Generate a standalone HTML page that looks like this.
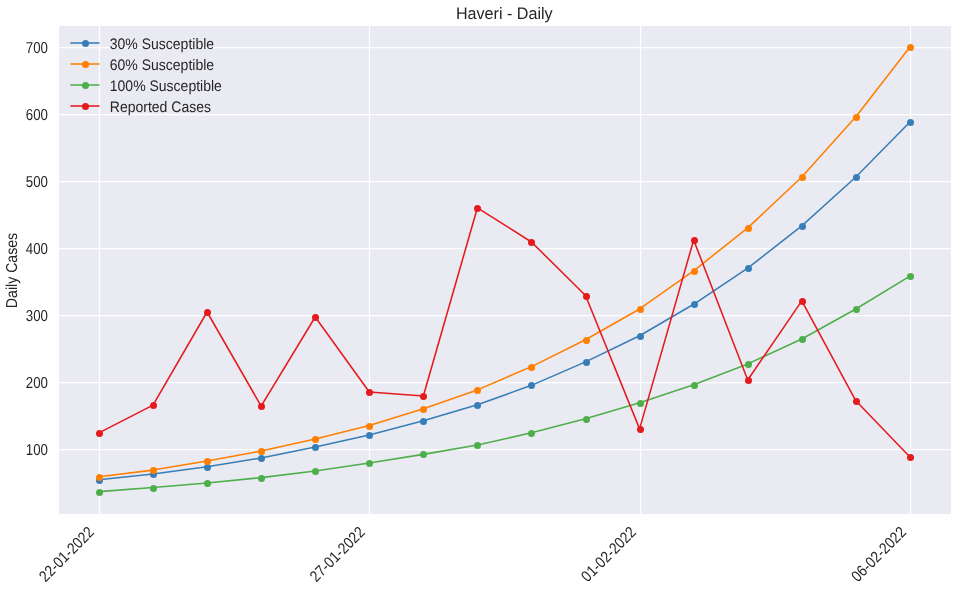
<!DOCTYPE html>
<html><head><meta charset="utf-8"><title>Haveri - Daily</title>
<style>html,body{margin:0;padding:0;background:#fff;}body{width:957px;height:591px;overflow:hidden;}svg{display:block;will-change:transform;}text{font-family:"Liberation Sans", sans-serif;fill:#262626;text-rendering:geometricPrecision;}</style>
</head><body>
<svg width="957" height="591" viewBox="0 0 957 591">
<rect x="0" y="0" width="957" height="591" fill="#ffffff"/>
<rect x="59" y="26" width="892" height="488" fill="#eaeaf2"/>
<g stroke="#ffffff" stroke-width="1.25" stroke-linecap="butt">
<line x1="99.50" y1="26" x2="99.50" y2="514"/>
<line x1="369.50" y1="26" x2="369.50" y2="514"/>
<line x1="640.50" y1="26" x2="640.50" y2="514"/>
<line x1="910.50" y1="26" x2="910.50" y2="514"/>
<line x1="59" y1="449.50" x2="951" y2="449.50"/>
<line x1="59" y1="382.50" x2="951" y2="382.50"/>
<line x1="59" y1="315.50" x2="951" y2="315.50"/>
<line x1="59" y1="248.50" x2="951" y2="248.50"/>
<line x1="59" y1="181.50" x2="951" y2="181.50"/>
<line x1="59" y1="114.50" x2="951" y2="114.50"/>
<line x1="59" y1="47.50" x2="951" y2="47.50"/>
</g>
<polyline points="98.95,479.82 153.01,474.06 207.08,466.82 261.14,457.98 315.21,446.99 369.27,434.93 423.34,420.86 477.40,404.78 531.47,385.35 585.53,361.90 639.60,335.77 693.66,304.28 747.73,268.10 801.80,225.89 855.86,176.98 909.92,122.04" fill="none" stroke="#377eb8" stroke-width="1.55" stroke-linejoin="round" stroke-linecap="round"/>
<g fill="#377eb8">
<circle cx="99.5" cy="480.5" r="3.5"/>
<circle cx="153.5" cy="474.5" r="3.5"/>
<circle cx="207.5" cy="467.5" r="3.5"/>
<circle cx="261.5" cy="458.5" r="3.5"/>
<circle cx="315.5" cy="447.5" r="3.5"/>
<circle cx="369.5" cy="435.5" r="3.5"/>
<circle cx="423.5" cy="421.5" r="3.5"/>
<circle cx="477.5" cy="405.5" r="3.5"/>
<circle cx="531.5" cy="385.5" r="3.5"/>
<circle cx="586.5" cy="362.5" r="3.5"/>
<circle cx="640.5" cy="336.5" r="3.5"/>
<circle cx="694.5" cy="304.5" r="3.5"/>
<circle cx="748.5" cy="268.5" r="3.5"/>
<circle cx="802.5" cy="226.5" r="3.5"/>
<circle cx="856.5" cy="177.5" r="3.5"/>
<circle cx="910.5" cy="122.5" r="3.5"/>
</g>
<polyline points="98.95,476.74 153.01,470.11 207.08,461.06 261.14,451.01 315.21,439.08 369.27,425.55 423.34,408.80 477.40,389.91 531.47,366.59 585.53,339.79 639.60,308.97 693.66,270.78 747.73,227.90 801.80,176.98 855.86,116.68 909.92,47.00" fill="none" stroke="#ff7f00" stroke-width="1.55" stroke-linejoin="round" stroke-linecap="round"/>
<g fill="#ff7f00">
<circle cx="99.5" cy="477.5" r="3.5"/>
<circle cx="153.5" cy="470.5" r="3.5"/>
<circle cx="207.5" cy="461.5" r="3.5"/>
<circle cx="261.5" cy="451.5" r="3.5"/>
<circle cx="315.5" cy="439.5" r="3.5"/>
<circle cx="369.5" cy="426.5" r="3.5"/>
<circle cx="423.5" cy="409.5" r="3.5"/>
<circle cx="477.5" cy="390.5" r="3.5"/>
<circle cx="531.5" cy="367.5" r="3.5"/>
<circle cx="586.5" cy="340.5" r="3.5"/>
<circle cx="640.5" cy="309.5" r="3.5"/>
<circle cx="694.5" cy="271.5" r="3.5"/>
<circle cx="748.5" cy="228.5" r="3.5"/>
<circle cx="802.5" cy="177.5" r="3.5"/>
<circle cx="856.5" cy="117.5" r="3.5"/>
<circle cx="910.5" cy="47.5" r="3.5"/>
</g>
<polyline points="98.95,491.61 153.01,487.53 207.08,482.90 261.14,477.61 315.21,470.91 369.27,463.07 423.34,454.36 477.40,445.11 531.47,432.79 585.53,418.85 639.60,402.77 693.66,384.68 747.73,363.91 801.80,338.99 855.86,308.97 909.92,276.14" fill="none" stroke="#4daf4a" stroke-width="1.55" stroke-linejoin="round" stroke-linecap="round"/>
<g fill="#4daf4a">
<circle cx="99.5" cy="492.5" r="3.5"/>
<circle cx="153.5" cy="488.5" r="3.5"/>
<circle cx="207.5" cy="483.5" r="3.5"/>
<circle cx="261.5" cy="478.5" r="3.5"/>
<circle cx="315.5" cy="471.5" r="3.5"/>
<circle cx="369.5" cy="463.5" r="3.5"/>
<circle cx="423.5" cy="454.5" r="3.5"/>
<circle cx="477.5" cy="445.5" r="3.5"/>
<circle cx="531.5" cy="433.5" r="3.5"/>
<circle cx="586.5" cy="419.5" r="3.5"/>
<circle cx="640.5" cy="403.5" r="3.5"/>
<circle cx="694.5" cy="385.5" r="3.5"/>
<circle cx="748.5" cy="364.5" r="3.5"/>
<circle cx="802.5" cy="339.5" r="3.5"/>
<circle cx="856.5" cy="309.5" r="3.5"/>
<circle cx="910.5" cy="276.5" r="3.5"/>
</g>
<polyline points="98.95,432.92 153.01,405.18 207.08,311.99 261.14,406.12 315.21,317.01 369.27,392.05 423.34,396.07 477.40,207.80 531.47,241.97 585.53,295.57 639.60,428.90 693.66,239.96 747.73,379.99 801.80,300.93 855.86,400.76 909.92,457.04" fill="none" stroke="#e41a1c" stroke-width="1.55" stroke-linejoin="round" stroke-linecap="round"/>
<g fill="#e41a1c">
<circle cx="99.5" cy="433.5" r="3.5"/>
<circle cx="153.5" cy="405.5" r="3.5"/>
<circle cx="207.5" cy="312.5" r="3.5"/>
<circle cx="261.5" cy="406.5" r="3.5"/>
<circle cx="315.5" cy="317.5" r="3.5"/>
<circle cx="369.5" cy="392.5" r="3.5"/>
<circle cx="423.5" cy="396.5" r="3.5"/>
<circle cx="477.5" cy="208.5" r="3.5"/>
<circle cx="531.5" cy="242.5" r="3.5"/>
<circle cx="586.5" cy="296.5" r="3.5"/>
<circle cx="640.5" cy="429.5" r="3.5"/>
<circle cx="694.5" cy="240.5" r="3.5"/>
<circle cx="748.5" cy="380.5" r="3.5"/>
<circle cx="802.5" cy="301.5" r="3.5"/>
<circle cx="856.5" cy="401.5" r="3.5"/>
<circle cx="910.5" cy="457.5" r="3.5"/>
</g>
<text transform="translate(47.9,455.40) scale(0.84,1)" font-size="15.8" text-anchor="end">100</text>
<text transform="translate(47.9,388.40) scale(0.84,1)" font-size="15.8" text-anchor="end">200</text>
<text transform="translate(47.9,321.40) scale(0.84,1)" font-size="15.8" text-anchor="end">300</text>
<text transform="translate(47.9,254.40) scale(0.84,1)" font-size="15.8" text-anchor="end">400</text>
<text transform="translate(47.9,187.40) scale(0.84,1)" font-size="15.8" text-anchor="end">500</text>
<text transform="translate(47.9,120.40) scale(0.84,1)" font-size="15.8" text-anchor="end">600</text>
<text transform="translate(47.9,53.40) scale(0.84,1)" font-size="15.8" text-anchor="end">700</text>
<text transform="translate(94.95,533.20) rotate(-45) scale(0.865,1)" font-size="15.8" text-anchor="end">22-01-2022</text>
<text transform="translate(365.77,533.20) rotate(-45) scale(0.865,1)" font-size="15.8" text-anchor="end">27-01-2022</text>
<text transform="translate(637.00,533.20) rotate(-45) scale(0.865,1)" font-size="15.8" text-anchor="end">01-02-2022</text>
<text transform="translate(907.12,533.20) rotate(-45) scale(0.865,1)" font-size="15.8" text-anchor="end">06-02-2022</text>
<text transform="translate(504.30,18.8) scale(0.972,1)" font-size="16.6" text-anchor="middle">Haveri - Daily</text>
<text transform="translate(17.1,270.50) rotate(-90) scale(0.893,1)" font-size="15.8" text-anchor="middle">Daily Cases</text>
<line x1="70.4" y1="43.00" x2="99.5" y2="43.00" stroke="#377eb8" stroke-width="1.55" stroke-linecap="butt"/>
<circle cx="85.5" cy="43.50" r="3.5" fill="#377eb8"/>
<text transform="translate(109.8,49.20) scale(0.918,1)" font-size="15.25">30% Susceptible</text>
<line x1="70.4" y1="64.00" x2="99.5" y2="64.00" stroke="#ff7f00" stroke-width="1.55" stroke-linecap="butt"/>
<circle cx="85.5" cy="64.50" r="3.5" fill="#ff7f00"/>
<text transform="translate(109.8,70.20) scale(0.918,1)" font-size="15.25">60% Susceptible</text>
<line x1="70.4" y1="85.00" x2="99.5" y2="85.00" stroke="#4daf4a" stroke-width="1.55" stroke-linecap="butt"/>
<circle cx="85.5" cy="85.50" r="3.5" fill="#4daf4a"/>
<text transform="translate(109.8,91.20) scale(0.918,1)" font-size="15.25">100% Susceptible</text>
<line x1="70.4" y1="106.00" x2="99.5" y2="106.00" stroke="#e41a1c" stroke-width="1.55" stroke-linecap="butt"/>
<circle cx="85.5" cy="106.50" r="3.5" fill="#e41a1c"/>
<text transform="translate(109.8,112.20) scale(0.918,1)" font-size="15.25">Reported Cases</text>
</svg></body></html>
